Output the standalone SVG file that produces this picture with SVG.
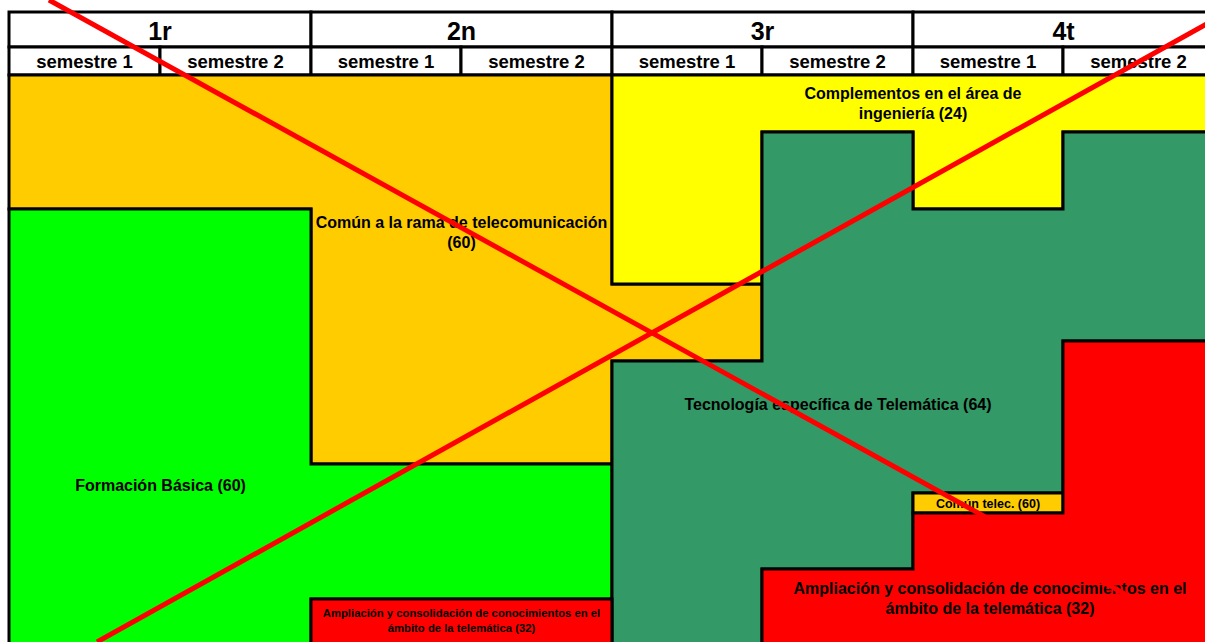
<svg xmlns="http://www.w3.org/2000/svg" width="1205" height="642" viewBox="0 0 1205 642">
<style>
.b{stroke:#000;stroke-width:3;stroke-linejoin:miter}
.hd{fill:#fff}
.t{font-family:"Liberation Sans",Arial,sans-serif;font-weight:bold;fill:#000;text-anchor:middle}
.yr{font-size:25px}
.sm{font-size:18.5px}
.lb{font-size:16px}
.x{stroke:#ff0000;stroke-width:5;fill:none}
</style>
<rect x="0" y="0" width="1205" height="642" fill="#fff"/>
<g id="header">
<rect class="b hd" x="9" y="12" width="302" height="35"/>
<rect class="b hd" x="311" y="12" width="301" height="35"/>
<rect class="b hd" x="612" y="12" width="301" height="35"/>
<rect class="b hd" x="913" y="12" width="301" height="35"/>
<rect class="b hd" x="9" y="47" width="151" height="28"/>
<rect class="b hd" x="160" y="47" width="151" height="28"/>
<rect class="b hd" x="311" y="47" width="150" height="28"/>
<rect class="b hd" x="461" y="47" width="151" height="28"/>
<rect class="b hd" x="612" y="47" width="150" height="28"/>
<rect class="b hd" x="762" y="47" width="151" height="28"/>
<rect class="b hd" x="913" y="47" width="150" height="28"/>
<rect class="b hd" x="1063" y="47" width="151" height="28"/>
<text class="t yr" x="160" y="40">1r</text>
<text class="t yr" x="461.5" y="40">2n</text>
<text class="t yr" x="762.5" y="40">3r</text>
<text class="t yr" x="1063.5" y="40">4t</text>
<text class="t sm" x="84.5" y="68">semestre 1</text>
<text class="t sm" x="235.5" y="68">semestre 2</text>
<text class="t sm" x="386" y="68">semestre 1</text>
<text class="t sm" x="536.5" y="68">semestre 2</text>
<text class="t sm" x="687" y="68">semestre 1</text>
<text class="t sm" x="837.5" y="68">semestre 2</text>
<text class="t sm" x="988" y="68">semestre 1</text>
<text class="t sm" x="1138.5" y="68">semestre 2</text>
</g>
<g id="comun-rama">
<polygon class="b" fill="#FFCC00" points="9,75 612,75 612,284 762,284 762,361 612,361 612,464 311,464 311,209 9,209"/>
<text class="t lb" x="461.5" y="228">Común a la rama de telecomunicación</text>
<text class="t lb" x="461.5" y="248">(60)</text>
</g>
<g id="complementos">
<polygon class="b" fill="#FFFF00" points="612,75 1214,75 1214,132 1063,132 1063,209 913,209 913,132 762,132 762,284 612,284"/>
<text class="t lb" x="913" y="99">Complementos en el área de</text>
<text class="t lb" x="913" y="119">ingeniería (24)</text>
</g>
<g id="formacion-basica">
<polygon class="b" fill="#00FF00" points="9,209 311,209 311,464 612,464 612,599 311,599 311,650 9,650"/>
<text class="t lb" x="160.5" y="491">Formación Básica (60)</text>
</g>
<g id="tecnologia">
<polygon class="b" fill="#339966" points="762,132 913,132 913,209 1063,209 1063,132 1214,132 1214,341 1063,341 1063,493 913,493 913,569 762,569 762,650 612,650 612,361 762,361"/>
<text class="t lb" x="838" y="410">Tecnología específica de Telemática (64)</text>
</g>
<g id="comun-telec">
<rect class="b" fill="#FFCC00" x="913" y="493" width="150" height="20"/>
<text class="t" style="font-size:12.5px" x="988" y="507.5">Común telec. (60)</text>
</g>
<g id="ampliacion">
<polygon class="b" fill="#FF0000" points="1063,341 1214,341 1214,650 762,650 762,569 913,569 913,513 1063,513"/>
<text class="t lb" x="990" y="594">Ampliación y consolidación de conocimientos en el</text>
<text class="t lb" x="990" y="614">ámbito de la telemática (32)</text>
</g>
<g id="ampliacion-small">
<rect class="b" fill="#FF0000" x="311" y="599" width="301" height="51"/>
<text class="t" style="font-size:11.3px" x="461.5" y="617">Ampliación y consolidación de conocimientos en el</text>
<text class="t" style="font-size:11.3px" x="461.5" y="632">ámbito de la telemática (32)</text>
</g>
<g id="connectors">
<line class="x" x1="49" y1="0" x2="1210" y2="641"/>
<line class="x" x1="97" y1="642" x2="1210" y2="22"/>
</g>
</svg>
